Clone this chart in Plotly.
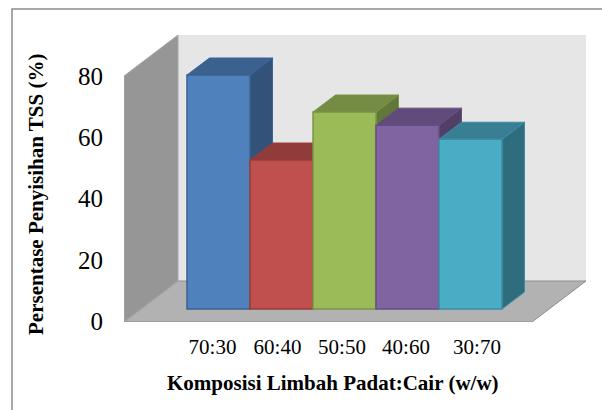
import plotly.graph_objects as go

categories = ["70:30", "60:40", "50:50", "40:60", "30:70"]
values = [76.5, 48.7, 64.4, 60.1, 55.5]
label_positions = [-0.095, 0.937, 1.96, 2.976, 4.103]
front_colors = ["#4F81BD", "#C0504D", "#9BBB59", "#8064A2", "#4BACC6"]
top_colors = ["#3B618F", "#903C3A", "#748C43", "#604B7A", "#387F94"]
side_colors = ["#32527A", "#7A3331", "#62773A", "#513F67", "#2F6C7D"]
edge_colors = ["#3A6294", "#963D3B", "#7A9446", "#654F80", "#3C8CA2"]
y_ticks = [0, 20, 40, 60, 80]

W, H = 602, 410
ML, MR, MT, MB = 124, 16, 35, 88
FONT = "Liberation Serif"

# axis ranges: one category = 63 px, one y unit = 3.06 px
X_RANGE = [-1.5, 5.833]
Y_RANGE = [-0.33, 93.5]

# 3D projection, axis units
BASE = 3.92        # bar front base above the floor's front edge
BAR_DX, BAR_DY = 0.357, 5.56     # depth of a bar
WALL_DX, WALL_DY = 0.857, 13.4   # depth of the box
WALL_TOP = 80.1
FLOOR = -0.33
FLOOR_RIGHT = X_RANGE[1] - WALL_DX


def poly(pts, fill, line=None, width=1):
    path = "M " + " L ".join(f"{x},{y}" for x, y in pts) + " Z"
    return dict(type="path", path=path, xref="x", yref="y", layer="below",
                fillcolor=fill, line=dict(color=line or fill, width=width))


x0 = X_RANGE[0]
shapes = [
    poly([(x0 + WALL_DX, FLOOR + WALL_DY), (X_RANGE[1], FLOOR + WALL_DY),
          (X_RANGE[1], WALL_TOP + WALL_DY), (x0 + WALL_DX, WALL_TOP + WALL_DY)], "#E6E6E6", "#E6E6E6"),
    poly([(x0, FLOOR), (FLOOR_RIGHT, FLOOR), (X_RANGE[1], FLOOR + WALL_DY),
          (x0 + WALL_DX, FLOOR + WALL_DY)], "#B2B2B2", "#8C8C8C", 1),
    poly([(x0, FLOOR), (x0 + WALL_DX, FLOOR + WALL_DY),
          (x0 + WALL_DX, WALL_TOP + WALL_DY), (x0, WALL_TOP)], "#969696", "#A8A8A8", 1),
]
for i, v in enumerate(values):
    l, r = i - 0.5, i + 0.5
    t = BASE + v
    shapes.append(poly([(r, BASE), (r + BAR_DX, BASE + BAR_DY), (r + BAR_DX, t + BAR_DY), (r, t)],
                       side_colors[i], edge_colors[i]))
    shapes.append(poly([(l, t), (r, t), (r + BAR_DX, t + BAR_DY), (l + BAR_DX, t + BAR_DY)],
                       top_colors[i], edge_colors[i]))

# outer chart frame (open at right and bottom)
pw, ph = W - ML - MR, H - MT - MB
fx = (12 - ML) / pw
fy = 1 + (MT - 9) / ph
shapes.append(dict(type="path", xref="paper", yref="paper", layer="below",
                   path=f"M {fx},{1 - (H - MT) / ph} L {fx},{fy} L {(W - ML) / pw},{fy}",
                   line=dict(color="#8C8C8C", width=1.5)))

fig = go.Figure(go.Bar(
    x=list(range(len(values))), y=values, base=[BASE] * len(values), width=1,
    marker=dict(color=front_colors, line=dict(color=edge_colors, width=1.5)),
    hoverinfo="skip", showlegend=False))

annotations = [
    dict(text="<b>Komposisi Limbah Padat:Cair (w/w)</b>", xref="paper", yref="paper",
         x=(333 - ML) / pw, y=(H - MB - 383) / ph, showarrow=False, xanchor="center", yanchor="middle",
         font=dict(size=21, family=FONT, color="black")),
    dict(text="<b>Persentase Penyisihan TSS (%)</b>", xref="paper", yref="paper",
         x=(36 - ML) / pw, y=(H - MB - 195) / ph, showarrow=False, xanchor="center", yanchor="middle",
         textangle=-90, font=dict(size=21, family=FONT, color="black")),
]

fig.update_layout(
    width=W, height=H, margin=dict(l=ML, r=MR, t=MT, b=MB, autoexpand=False),
    paper_bgcolor="white", plot_bgcolor="rgba(0,0,0,0)",
    font=dict(family=FONT, color="black"), shapes=shapes, annotations=annotations, showlegend=False,
    xaxis=dict(range=X_RANGE, tickmode="array", tickvals=label_positions,
               ticktext=categories, showgrid=False, zeroline=False, showline=False, ticks="",
               tickfont=dict(size=21, family=FONT), ticklabelstandoff=10),
    yaxis=dict(range=Y_RANGE, tickmode="array", tickvals=y_ticks, showgrid=False, zeroline=False,
               showline=False, ticks="", tickfont=dict(size=25, family=FONT), ticklabelstandoff=20),
)
fig.write_html("out.html", post_script="document.body.style.margin='0';",
               config={"displayModeBar": False})
